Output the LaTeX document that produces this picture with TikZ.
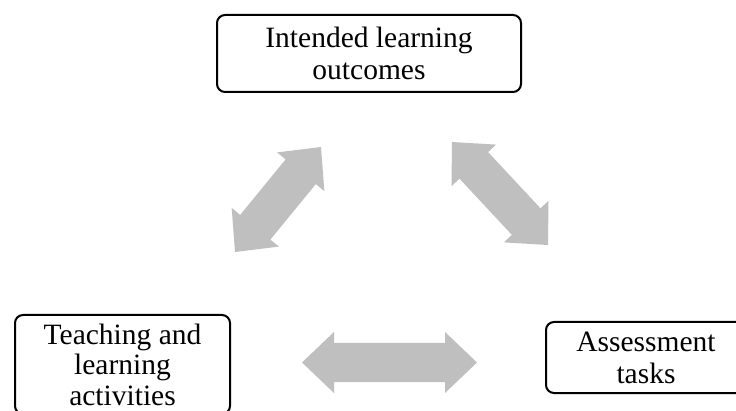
\documentclass[tikz,border=0pt]{standalone}
\usepackage{fontspec}
\setmainfont{Liberation Serif}
\usetikzlibrary{calc}
\definecolor{arrowgray}{RGB}{191,191,191}
\tikzset{
  goalbox/.style={draw=black, line width=2pt, rounded corners=8pt, fill=white,
    align=center, inner sep=0pt,
    font=\fontsize{29.5}{32}\selectfont},
}
% block double arrow between two tip coordinates
\newcommand{\blockarrow}[2]{%
  \coordinate (ak) at ($(#1)!32pt!(#2)$);
  \coordinate (bk) at ($(#2)!32pt!(#1)$);
  \fill[arrowgray] (#1)
    -- ($(ak)!30.5pt!90:(#2)$) -- ($(ak)!19.5pt!90:(#2)$)
    -- ($(bk)!19.5pt!-90:(#1)$) -- ($(bk)!30.5pt!-90:(#1)$)
    -- (#2)
    -- ($(bk)!30.5pt!90:(#1)$) -- ($(bk)!19.5pt!90:(#1)$)
    -- ($(ak)!19.5pt!-90:(#2)$) -- ($(ak)!30.5pt!-90:(#2)$)
    -- cycle;}
\begin{document}
\begin{tikzpicture}[x=1pt,y=-1pt]
\useasboundingbox (0,0) rectangle (736,411);
\fill[white] (0,0) rectangle (736,411);

\node[goalbox, minimum width=304pt, minimum height=77pt] (ilo) at (369,53.5)
  {Intended learning\\outcomes};
\node[goalbox, minimum width=215pt, minimum height=99pt,
      font=\fontsize{29.5}{30.5}\selectfont] (tla) at (122.5,364.5)
  {Teaching and\\learning\\activities};
\node[goalbox, minimum width=200pt, minimum height=71pt] (at) at (646,357.5)
  {Assessment\\tasks};

\coordinate (l1) at (235,252);
\coordinate (l2) at (321,147);
\coordinate (r1) at (452,142);
\coordinate (r2) at (548,245);
\coordinate (b1) at (302,362.5);
\coordinate (b2) at (477,362.5);
\blockarrow{l1}{l2}
\blockarrow{r1}{r2}
\blockarrow{b1}{b2}
\end{tikzpicture}
\end{document}
